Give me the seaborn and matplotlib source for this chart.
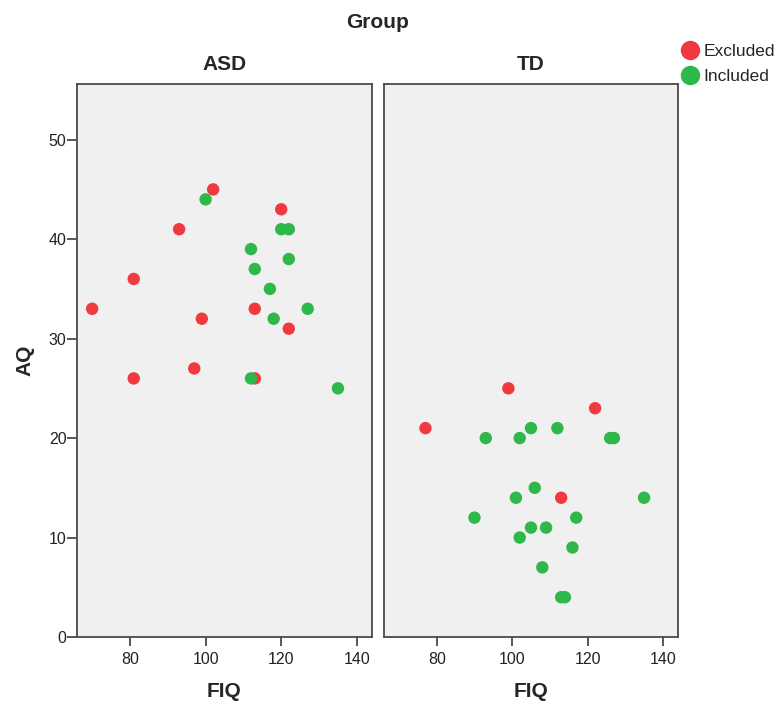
import matplotlib
matplotlib.use("Agg")
import matplotlib.pyplot as plt
import seaborn as sns
import pandas as pd
from matplotlib.lines import Line2D

# ASD group
asd_excl_fiq = [70, 81, 81, 93, 99, 97, 102, 120, 113, 122, 113]
asd_excl_aq = [33, 36, 26, 41, 32, 27, 45, 43, 33, 31, 26]
asd_incl_fiq = [100, 112, 113, 117, 118, 120, 122, 122, 127, 112, 135]
asd_incl_aq = [44, 39, 37, 35, 32, 41, 41, 38, 33, 26, 25]

# TD group
td_excl_fiq = [99, 122, 77, 113]
td_excl_aq = [25, 23, 21, 14]
td_incl_fiq = [93, 102, 105, 112, 126, 127, 106, 101, 135, 90, 117, 105, 109,
               102, 116, 108, 113, 114]
td_incl_aq = [20, 20, 21, 21, 20, 20, 15, 14, 14, 12, 12, 11, 11, 10, 9, 7, 4, 4]

groups = ["ASD", "TD"]
statuses = ["Excluded", "Included"]
palette = {"Excluded": "#F03A40", "Included": "#2EB84A"}
x_ticks = [80, 100, 120, 140]
y_ticks = [0, 10, 20, 30, 40, 50]


def rows(group, status, fiq, aq):
    return pd.DataFrame({"Group": group, "Status": status, "FIQ": fiq, "AQ": aq})


df = pd.concat([
    rows("ASD", "Excluded", asd_excl_fiq, asd_excl_aq),
    rows("ASD", "Included", asd_incl_fiq, asd_incl_aq),
    rows("TD", "Excluded", td_excl_fiq, td_excl_aq),
    rows("TD", "Included", td_incl_fiq, td_incl_aq),
], ignore_index=True)

sns.set_style("white")
plt.rcParams["font.family"] = ["Liberation Sans", "DejaVu Sans"]

W, H = 782, 702
fig = plt.figure(figsize=(W / 100, H / 100), dpi=100)
fig.patch.set_facecolor("white")

top, bottom = 84, 637
panels = {"ASD": (77, 372), "TD": (384, 678)}
edge = "#4a4a4a"

for i, g in enumerate(groups):
    l, r = panels[g]
    ax = fig.add_axes([l / W, (H - bottom) / H, (r - l) / W, (bottom - top) / H])
    ax.set_facecolor("#F0F0F0")
    sns.scatterplot(data=df[df["Group"] == g], x="FIQ", y="AQ", hue="Status",
                    hue_order=statuses, palette=palette, s=80, linewidth=0,
                    legend=False, ax=ax)
    ax.set_xlim(66, 144)
    ax.set_ylim(0, 55.6)
    ax.set_xticks(x_ticks)
    ax.set_xticklabels([str(t) for t in x_ticks], fontsize=11.5, color="#222222")
    ax.tick_params(axis="x", bottom=True, direction="out", length=6.5, width=1.3,
                   color=edge, pad=4)
    if i == 0:
        ax.set_yticks(y_ticks)
        ax.set_yticklabels([str(t) for t in y_ticks], fontsize=11.5, color="#222222")
        ax.tick_params(axis="y", left=True, direction="out", length=7, width=1.3,
                       color=edge, pad=0.5)
        ax.set_ylabel("AQ", fontsize=15, fontweight="bold", labelpad=10)
    else:
        ax.set_yticks([])
        ax.set_ylabel("")
    ax.set_xlabel("FIQ", fontsize=15, fontweight="bold", labelpad=11)
    ax.set_title(g, fontsize=15, fontweight="bold", pad=10)
    for sp in ax.spines.values():
        sp.set_visible(True)
        sp.set_color(edge)
        sp.set_linewidth(1.3)

fig.text(378 / W, 1 - 22 / H, "Group", ha="center", va="center",
         fontsize=15, fontweight="bold")

handles = [Line2D([0], [0], marker="o", linestyle="", markersize=14,
                  markerfacecolor=palette[s], markeredgewidth=0) for s in statuses]
fig.legend(handles, statuses, loc="upper left", bbox_to_anchor=(680 / W, 1 - 44 / H),
           frameon=False, fontsize=12.5, handletextpad=0.15, labelspacing=0.55,
           borderaxespad=0, handlelength=1.2, borderpad=0)

fig.savefig("out.png", dpi=100)
